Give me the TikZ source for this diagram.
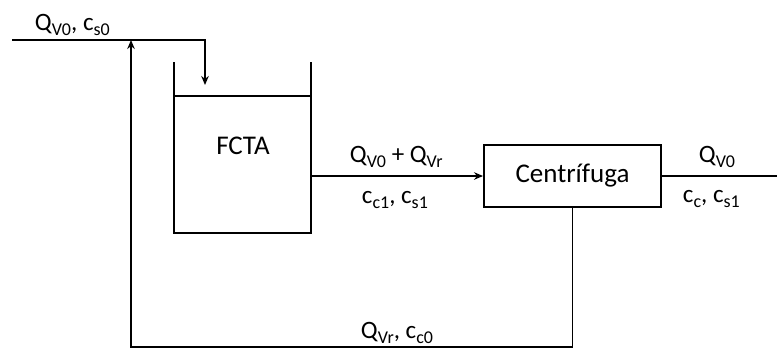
\documentclass[tikz,border=0pt]{standalone}
\usepackage{fontspec}
\setmainfont{Carlito}
\usetikzlibrary{arrows.meta}
\newcommand\sbs[1]{\raisebox{-5pt}{\fontsize{18}{18}\selectfont #1}}
\begin{document}
\begin{tikzpicture}[x=1pt,y=-1pt, line width=1.9pt,
  >={Stealth[length=9pt,width=7.5pt]},
  lbl/.style={font=\fontsize{25}{25}\selectfont, inner sep=0pt, anchor=base west},
  big/.style={font=\fontsize{27}{27}\selectfont, inner sep=0pt}]
\useasboundingbox (0,0) rectangle (777,349);
% tank
\coordinate (tl) at (174,62);
\coordinate (tr) at (311,62);
\coordinate (bl) at (174,233);
\coordinate (br) at (311,233);
\draw (tl) -- (bl) -- (br) -- (tr);
\coordinate (lvlL) at (174,96);
\coordinate (lvlR) at (311,96);
\draw (lvlL) -- (lvlR);
\node[big] (fcta) at (243,146) {FCTA};
% centrifuge
\node[draw, big, minimum width=177pt, minimum height=62pt] (cent) at (572.5,176) {Centr\'{\i}fuga};
% tank -> centrifuge
\coordinate (tout) at (311,176);
\draw[->] (tout) -- (cent.west);
% output
\coordinate (out) at (777,176);
\draw (cent.east) -- (out);
% recycle
\coordinate (rb) at (572.5,347);
\coordinate (lb) at (131,347);
\coordinate (lt) at (131,40);
\draw[->] (cent.south) -- (rb) -- (lb) -- (lt);
% feed
\coordinate (fin) at (12,40);
\coordinate (fc) at (205,40);
\coordinate (ftip) at (205,85);
\draw[->] (fin) -- (fc) -- (ftip);
% labels
\node[lbl] (l1) at (34,30) {Q\sbs{V0}, c\sbs{s0}};
\node[lbl] (l2) at (349,162) {Q\sbs{V0} + Q\sbs{Vr}};
\node[lbl] (l3) at (361,203) {c\sbs{c1}, c\sbs{s1}};
\node[lbl] (l4) at (698,162) {Q\sbs{V0}};
\node[lbl] (l5) at (682,202) {c\sbs{c}, c\sbs{s1}};
\node[lbl] (l6) at (360,338) {Q\sbs{Vr}, c\sbs{c0}};
\end{tikzpicture}
\end{document}
